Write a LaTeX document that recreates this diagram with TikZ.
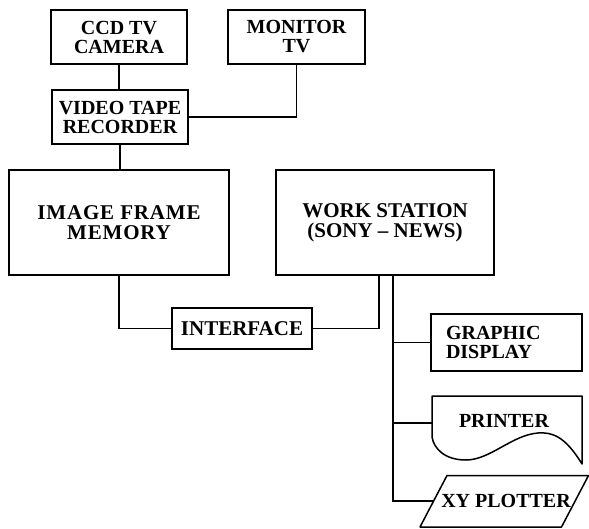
\documentclass[tikz,border=0pt]{standalone}
\usepackage{fontspec}
\setmainfont{Liberation Serif}
\begin{document}
\begin{tikzpicture}[x=1pt,y=-1pt,
  box/.style={draw, line width=1.5pt, inner sep=0pt, align=center,
    font=\bfseries\fontsize{20}{19}\selectfont},
  big/.style={font=\bfseries\fontsize{21}{20}\selectfont},
  lbl/.style={inner sep=0pt, font=\bfseries\fontsize{20}{19}\selectfont},
  wire/.style={line width=1.5pt}]
\useasboundingbox (0,0) rectangle (589,529);
\node[box, minimum width=136pt, minimum height=54pt] (ccd) at (119,37) {CCD TV\\CAMERA};
\node[box, minimum width=137pt, minimum height=54pt] (mon) at (296.5,37) {MONITOR\\TV};
\node[box, minimum width=136pt, minimum height=54pt] (vtr) at (120,117) {VIDEO TAPE\\RECORDER};
\node[box, big, minimum width=220pt, minimum height=105pt] (ifm) at (119,222.5) {\addfontfeature{LetterSpace=4}IMAGE FRAME\\\addfontfeature{LetterSpace=4}MEMORY};
\node[box, big, minimum width=218pt, minimum height=105pt] (ws) at (385,222.5) {WORK STATION\\(SONY -- NEWS)};
\node[box, big, minimum width=140pt, minimum height=41pt] (intf) at (242,328.5) {INTERFACE};
\node[box, minimum width=151pt, minimum height=57pt, text width=121pt, align=left] (gd) at (506.5,342.5) {GRAPHIC\\DISPLAY};
% printer shape
\draw[wire, line join=round] (432,437) -- (432,396) -- (582,396) -- (582,464)
  .. controls (565,436) and (552,432) .. (538,433)
  .. controls (512,435) and (490,460) .. (466,460)
  .. controls (445,460) and (434,449) .. (432,437);
\node[lbl, anchor=base] (prn) at (504,427) {PRINTER};
% xy plotter shape
\draw[wire, line join=round] (420,527) -- (447,475.5) -- (588.5,475.5) -- (561.5,527) -- cycle;
\node[lbl, anchor=base] (xy) at (506,507) {XY PLOTTER};
% connectors
\coordinate (wsa) at (379,275);
\coordinate (wsb) at (393,275);
\coordinate (prnin) at (432,423);
\coordinate (xyin) at (433.5,501);
\draw[wire] (ccd.south) -- (ccd.south |- vtr.north);
\draw[wire] (vtr.east) -| (mon.south);
\draw[wire] (vtr.south) -- (vtr.south |- ifm.north);
\draw[wire] (ifm.south) |- (intf.west);
\draw[wire] (intf.east) -| (wsa);
\draw[wire] (wsb) |- (xyin);
\draw[wire] (wsb |- gd.west) -- (gd.west);
\draw[wire] (wsb |- prnin) -- (prnin);
\end{tikzpicture}
\end{document}
